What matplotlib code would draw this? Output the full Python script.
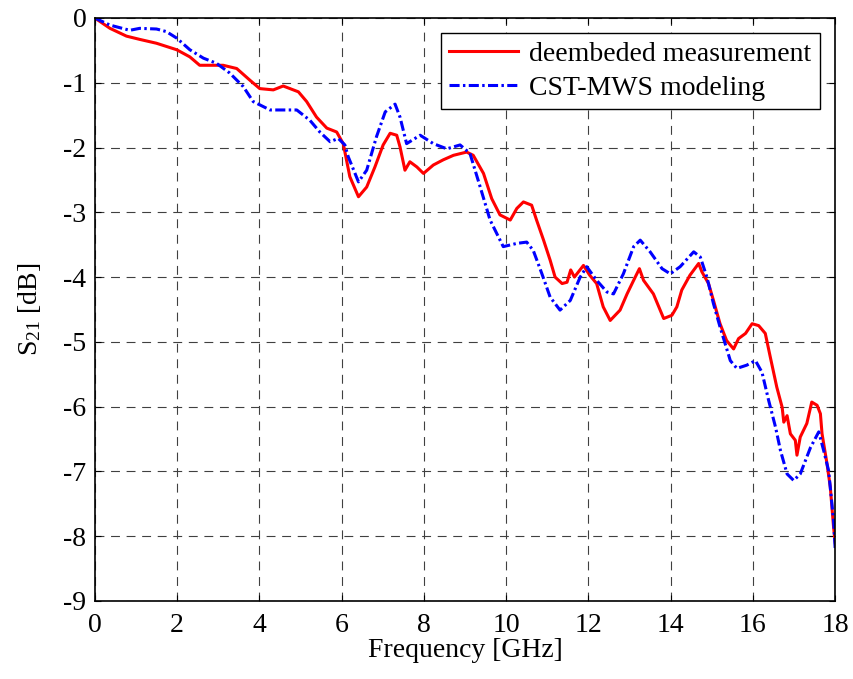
import matplotlib
matplotlib.use('Agg')
import matplotlib.pyplot as plt

# ========== data ==========
# deembeded measurement
f_meas = [0, 0.37, 0.77, 1.09, 1.5, 1.99, 2.31, 2.55, 3.12, 3.45, 3.77, 4.01, 4.34, 4.58,
          4.95, 5.15, 5.39, 5.64, 5.88, 6.04, 6.2, 6.41, 6.61, 6.81, 7.01, 7.18, 7.34, 7.42,
          7.54, 7.66, 7.83, 7.99, 8.23, 8.47, 8.72, 9.04, 9.2, 9.45, 9.65, 9.85, 10.1, 10.26,
          10.42, 10.62, 10.74, 10.91, 11.07, 11.19, 11.36, 11.48, 11.57, 11.66, 11.88, 12.03,
          12.2, 12.36, 12.53, 12.65, 12.77, 12.94, 13.1, 13.24, 13.34, 13.58, 13.83, 14.03,
          14.15, 14.27, 14.47, 14.68, 14.76, 14.92, 15.04, 15.2, 15.36, 15.53, 15.65, 15.82,
          15.98, 16.14, 16.3, 16.42, 16.58, 16.71, 16.75, 16.83, 16.91, 17.03, 17.07, 17.15,
          17.31, 17.43, 17.56, 17.64, 17.68, 17.8, 17.88, 17.96, 18.0]
s21_meas = [0, -0.16, -0.28, -0.33, -0.39, -0.49, -0.60, -0.73, -0.73, -0.78, -0.96, -1.09,
            -1.11, -1.05, -1.14, -1.29, -1.53, -1.70, -1.76, -1.94, -2.45, -2.76, -2.61, -2.30,
            -1.96, -1.78, -1.81, -1.99, -2.35, -2.22, -2.30, -2.40, -2.27, -2.19, -2.12, -2.07,
            -2.12, -2.40, -2.79, -3.04, -3.12, -2.94, -2.84, -2.89, -3.12, -3.43, -3.74, -4.0,
            -4.10, -4.08, -3.89, -4.0, -3.82, -3.97, -4.10, -4.46, -4.67, -4.59, -4.51, -4.26,
            -4.05, -3.87, -4.05, -4.26, -4.64, -4.59, -4.46, -4.20, -3.97, -3.79, -3.92, -4.10,
            -4.36, -4.72, -4.98, -5.11, -4.95, -4.87, -4.72, -4.75, -4.87, -5.23, -5.70, -6.01,
            -6.24, -6.14, -6.42, -6.52, -6.75, -6.47, -6.26, -5.93, -5.98, -6.11, -6.42, -6.88,
            -7.24, -7.86, -8.1]

# CST-MWS modeling
f_cst = [0, 0.37, 0.85, 1.09, 1.5, 1.74, 1.99, 2.31, 2.64, 2.96, 3.28, 3.61, 3.85, 4.26,
         4.91, 5.23, 5.47, 5.72, 5.92, 6.08, 6.16, 6.41, 6.61, 6.85, 7.06, 7.3, 7.42, 7.58,
         7.91, 8.23, 8.56, 8.88, 9.12, 9.37, 9.61, 9.93, 10.26, 10.5, 10.66, 10.87, 11.07,
         11.31, 11.56, 11.8, 11.96, 12.2, 12.45, 12.61, 12.85, 13.1, 13.26, 13.5, 13.79,
         13.99, 14.23, 14.56, 14.72, 14.88, 15.04, 15.2, 15.45, 15.61, 15.85, 16.06, 16.22,
         16.38, 16.55, 16.67, 16.83, 16.99, 17.15, 17.4, 17.6, 17.72, 17.84, 17.96, 18.0]
s21_cst = [0, -0.11, -0.19, -0.16, -0.17, -0.21, -0.31, -0.49, -0.62, -0.70, -0.85, -1.06,
           -1.29, -1.42, -1.42, -1.58, -1.76, -1.91, -1.86, -1.96, -2.14, -2.53, -2.35, -1.83,
           -1.45, -1.33, -1.53, -1.94, -1.81, -1.94, -2.02, -1.96, -2.09, -2.61, -3.12, -3.53,
           -3.48, -3.46, -3.59, -3.95, -4.31, -4.51, -4.36, -4.0, -3.84, -4.05, -4.23, -4.26,
           -3.95, -3.53, -3.43, -3.61, -3.87, -3.95, -3.84, -3.61, -3.69, -4.0, -4.41, -4.77,
           -5.29, -5.41, -5.36, -5.29, -5.47, -5.90, -6.32, -6.68, -7.04, -7.14, -7.04, -6.63,
           -6.39, -6.68, -6.99, -7.76, -8.2]

x_ticks = list(range(0, 19, 2))
y_ticks = list(range(-9, 1))

# ========== style ==========
plt.rcParams['font.family'] = ['Liberation Serif', 'DejaVu Serif']
plt.rcParams['mathtext.fontset'] = 'custom'
plt.rcParams['mathtext.rm'] = 'Liberation Serif'
plt.rcParams['mathtext.it'] = 'Liberation Serif:italic'
plt.rcParams['axes.unicode_minus'] = False
plt.rcParams['font.size'] = 20

fig = plt.figure(figsize=(8.54, 6.79), dpi=100)
ax = fig.add_axes([0.111, 0.115, 0.867, 0.8585])

ax.plot(f_meas, s21_meas, color='red', linewidth=2.2, label='deembeded measurement')
line_cst, = ax.plot(f_cst, s21_cst, color='blue', linewidth=2.2, label='CST-MWS modeling')
line_cst.set_dashes([3.3, 1.1, 0.8, 1.1])  # MATLAB-like '-.'

ax.set_xlim(0, 18)
ax.set_ylim(-9, 0)
ax.set_xticks(x_ticks)
ax.set_yticks(y_ticks)
ax.set_xlabel('Frequency [GHz]', labelpad=0)
ax.set_ylabel(r'S$_{\mathrm{21}}$ [dB]', labelpad=15)

ax.grid(True, color='#404040', linestyle=(0, (8, 6)), linewidth=0.8)
ax.tick_params(axis='x', direction='in', top=True, length=4, width=0.8, pad=9)
ax.tick_params(axis='y', direction='in', right=True, length=4, width=0.8, pad=6)
for sp in ax.spines.values():
    sp.set_linewidth(1.2)

leg = ax.legend(loc='upper right', fancybox=False, framealpha=1, edgecolor='black',
                handlelength=2.5, borderpad=0.3, borderaxespad=0.55, labelspacing=0.3,
                handletextpad=0.4)
leg.get_frame().set_linewidth(1.0)

plt.savefig('out.png', dpi=100)
